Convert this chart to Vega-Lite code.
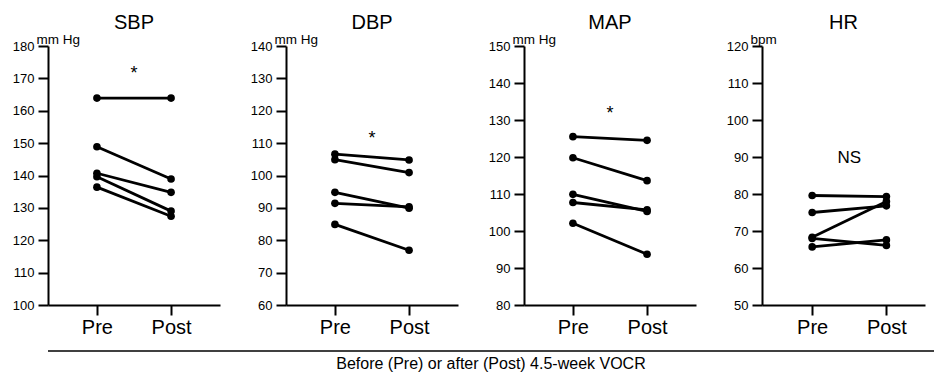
{
  "$schema": "https://vega.github.io/schema/vega-lite/v6.json",
  "padding": {"left": 12, "top": 13, "right": 0, "bottom": 0},
  "datasets": {
    "SBP": [
      {"subject": 1, "phase": "Pre", "t": 0, "value": 163.9}, {"subject": 1, "phase": "Post", "t": 1, "value": 163.9},
      {"subject": 2, "phase": "Pre", "t": 0, "value": 148.9}, {"subject": 2, "phase": "Post", "t": 1, "value": 138.9},
      {"subject": 3, "phase": "Pre", "t": 0, "value": 140.7}, {"subject": 3, "phase": "Post", "t": 1, "value": 134.8},
      {"subject": 4, "phase": "Pre", "t": 0, "value": 139.6}, {"subject": 4, "phase": "Post", "t": 1, "value": 129.0},
      {"subject": 5, "phase": "Pre", "t": 0, "value": 136.4}, {"subject": 5, "phase": "Post", "t": 1, "value": 127.4}
    ],
    "DBP": [
      {"subject": 1, "phase": "Pre", "t": 0, "value": 106.6}, {"subject": 1, "phase": "Post", "t": 1, "value": 104.8},
      {"subject": 2, "phase": "Pre", "t": 0, "value": 104.9}, {"subject": 2, "phase": "Post", "t": 1, "value": 100.9},
      {"subject": 3, "phase": "Pre", "t": 0, "value": 94.8}, {"subject": 3, "phase": "Post", "t": 1, "value": 89.9},
      {"subject": 4, "phase": "Pre", "t": 0, "value": 91.4}, {"subject": 4, "phase": "Post", "t": 1, "value": 90.3},
      {"subject": 5, "phase": "Pre", "t": 0, "value": 84.9}, {"subject": 5, "phase": "Post", "t": 1, "value": 76.9}
    ],
    "MAP": [
      {"subject": 1, "phase": "Pre", "t": 0, "value": 125.5}, {"subject": 1, "phase": "Post", "t": 1, "value": 124.5},
      {"subject": 2, "phase": "Pre", "t": 0, "value": 119.8}, {"subject": 2, "phase": "Post", "t": 1, "value": 113.6},
      {"subject": 3, "phase": "Pre", "t": 0, "value": 109.9}, {"subject": 3, "phase": "Post", "t": 1, "value": 105.3},
      {"subject": 4, "phase": "Pre", "t": 0, "value": 107.7}, {"subject": 4, "phase": "Post", "t": 1, "value": 105.7},
      {"subject": 5, "phase": "Pre", "t": 0, "value": 102.1}, {"subject": 5, "phase": "Post", "t": 1, "value": 93.7}
    ],
    "HR": [
      {"subject": 1, "phase": "Pre", "t": 0, "value": 79.6}, {"subject": 1, "phase": "Post", "t": 1, "value": 79.3},
      {"subject": 2, "phase": "Pre", "t": 0, "value": 75.0}, {"subject": 2, "phase": "Post", "t": 1, "value": 76.8},
      {"subject": 3, "phase": "Pre", "t": 0, "value": 68.3}, {"subject": 3, "phase": "Post", "t": 1, "value": 78.0},
      {"subject": 4, "phase": "Pre", "t": 0, "value": 68.0}, {"subject": 4, "phase": "Post", "t": 1, "value": 66.1},
      {"subject": 5, "phase": "Pre", "t": 0, "value": 65.7}, {"subject": 5, "phase": "Post", "t": 1, "value": 67.6}
    ]
  },
  "vconcat": [
    {
      "hconcat": [
        {
          "width": 172, "height": 259, "title": "SBP",
          "encoding": {
            "x": {"field": "t", "type": "quantitative", "scale": {"domain": [-0.66, 1.66], "nice": false}, "axis": {"values": [0, 1], "labelExpr": "datum.value == 0 ? 'Pre' : 'Post'"}},
            "y": {"field": "value", "type": "quantitative", "scale": {"domain": [100, 180], "nice": false}, "axis": {"values": [100, 110, 120, 130, 140, 150, 160, 170, 180], "title": "mm Hg"}}
          },
          "layer": [
            {"data": {"name": "SBP"}, "mark": {"type": "line", "color": "black", "strokeWidth": 2.8}, "encoding": {"detail": {"field": "subject"}}},
            {"data": {"name": "SBP"}, "mark": {"type": "point", "filled": true, "color": "black", "size": 58, "opacity": 1}},
            {"data": {"values": [{"label": "*", "t": 0.5, "value": 169.8}]}, "mark": {"type": "text", "fontSize": 18, "baseline": "alphabetic", "color": "black"}, "encoding": {"text": {"field": "label"}}}
          ]
        },
        {
          "width": 172, "height": 259, "title": "DBP",
          "encoding": {
            "x": {"field": "t", "type": "quantitative", "scale": {"domain": [-0.66, 1.66], "nice": false}, "axis": {"values": [0, 1], "labelExpr": "datum.value == 0 ? 'Pre' : 'Post'"}},
            "y": {"field": "value", "type": "quantitative", "scale": {"domain": [60, 140], "nice": false}, "axis": {"values": [60, 70, 80, 90, 100, 110, 120, 130, 140], "title": "mm Hg"}}
          },
          "layer": [
            {"data": {"name": "DBP"}, "mark": {"type": "line", "color": "black", "strokeWidth": 2.8}, "encoding": {"detail": {"field": "subject"}}},
            {"data": {"name": "DBP"}, "mark": {"type": "point", "filled": true, "color": "black", "size": 58, "opacity": 1}},
            {"data": {"values": [{"label": "*", "t": 0.5, "value": 109.7}]}, "mark": {"type": "text", "fontSize": 18, "baseline": "alphabetic", "color": "black"}, "encoding": {"text": {"field": "label"}}}
          ]
        },
        {
          "width": 172, "height": 259, "title": "MAP",
          "encoding": {
            "x": {"field": "t", "type": "quantitative", "scale": {"domain": [-0.66, 1.66], "nice": false}, "axis": {"values": [0, 1], "labelExpr": "datum.value == 0 ? 'Pre' : 'Post'"}},
            "y": {"field": "value", "type": "quantitative", "scale": {"domain": [80, 150], "nice": false}, "axis": {"values": [80, 90, 100, 110, 120, 130, 140, 150], "title": "mm Hg"}}
          },
          "layer": [
            {"data": {"name": "MAP"}, "mark": {"type": "line", "color": "black", "strokeWidth": 2.8}, "encoding": {"detail": {"field": "subject"}}},
            {"data": {"name": "MAP"}, "mark": {"type": "point", "filled": true, "color": "black", "size": 58, "opacity": 1}},
            {"data": {"values": [{"label": "*", "t": 0.5, "value": 130.3}]}, "mark": {"type": "text", "fontSize": 18, "baseline": "alphabetic", "color": "black"}, "encoding": {"text": {"field": "label"}}}
          ]
        },
        {
          "width": 163, "height": 259, "title": "HR",
          "encoding": {
            "x": {"field": "t", "type": "quantitative", "scale": {"domain": [-0.676, 1.52], "nice": false}, "axis": {"values": [0, 1], "labelExpr": "datum.value == 0 ? 'Pre' : 'Post'"}},
            "y": {"field": "value", "type": "quantitative", "scale": {"domain": [50, 120], "nice": false}, "axis": {"values": [50, 60, 70, 80, 90, 100, 110, 120], "title": "bpm"}}
          },
          "layer": [
            {"data": {"name": "HR"}, "mark": {"type": "line", "color": "black", "strokeWidth": 2.8}, "encoding": {"detail": {"field": "subject"}}},
            {"data": {"name": "HR"}, "mark": {"type": "point", "filled": true, "color": "black", "size": 58, "opacity": 1}},
            {"data": {"values": [{"label": "NS", "t": 0.5, "value": 88.3}]}, "mark": {"type": "text", "fontSize": 17, "baseline": "alphabetic", "color": "black"}, "encoding": {"text": {"field": "label"}}}
          ]
        }
      ],
      "spacing": 30
    },
    {
      "width": 886, "height": 18,
      "data": {"values": [{"caption": "Before (Pre) or after (Post) 4.5-week VOCR"}]},
      "layer": [
        {"mark": {"type": "rule", "color": "black", "strokeWidth": 1.5},
         "encoding": {"x": {"datum": 0, "type": "quantitative", "scale": {"domain": [0, 1], "nice": false}, "axis": null}, "x2": {"datum": 1}, "y": {"datum": 1, "type": "quantitative", "scale": {"domain": [0, 1], "nice": false}, "axis": null}}},
        {"mark": {"type": "text", "fontSize": 16, "baseline": "alphabetic", "color": "black"},
         "encoding": {"x": {"datum": 0.5, "type": "quantitative"}, "y": {"datum": 0, "type": "quantitative"}, "text": {"field": "caption"}}}
      ]
    }
  ],
  "spacing": 13,
  "config": {
    "font": "Liberation Sans",
    "view": {"stroke": null},
    "axis": {"domainColor": "black", "domainWidth": 2, "tickColor": "black", "tickWidth": 2, "tickSize": 10, "labelColor": "black", "grid": false, "titleColor": "black", "titleFontWeight": "normal", "labelFont": "Liberation Sans", "titleFont": "Liberation Sans"},
    "axisY": {"labelFontSize": 13, "labelPadding": 4, "titleAngle": 0, "titleAlign": "left", "titleBaseline": "alphabetic", "titleX": -12, "titleY": -3, "titleFontSize": 13.5, "titlePadding": 0},
    "axisX": {"labelFontSize": 20, "labelPadding": 2, "title": null},
    "title": {"fontSize": 20, "fontWeight": "normal", "color": "black", "anchor": "middle", "font": "Liberation Sans", "offset": -1}
  }
}
